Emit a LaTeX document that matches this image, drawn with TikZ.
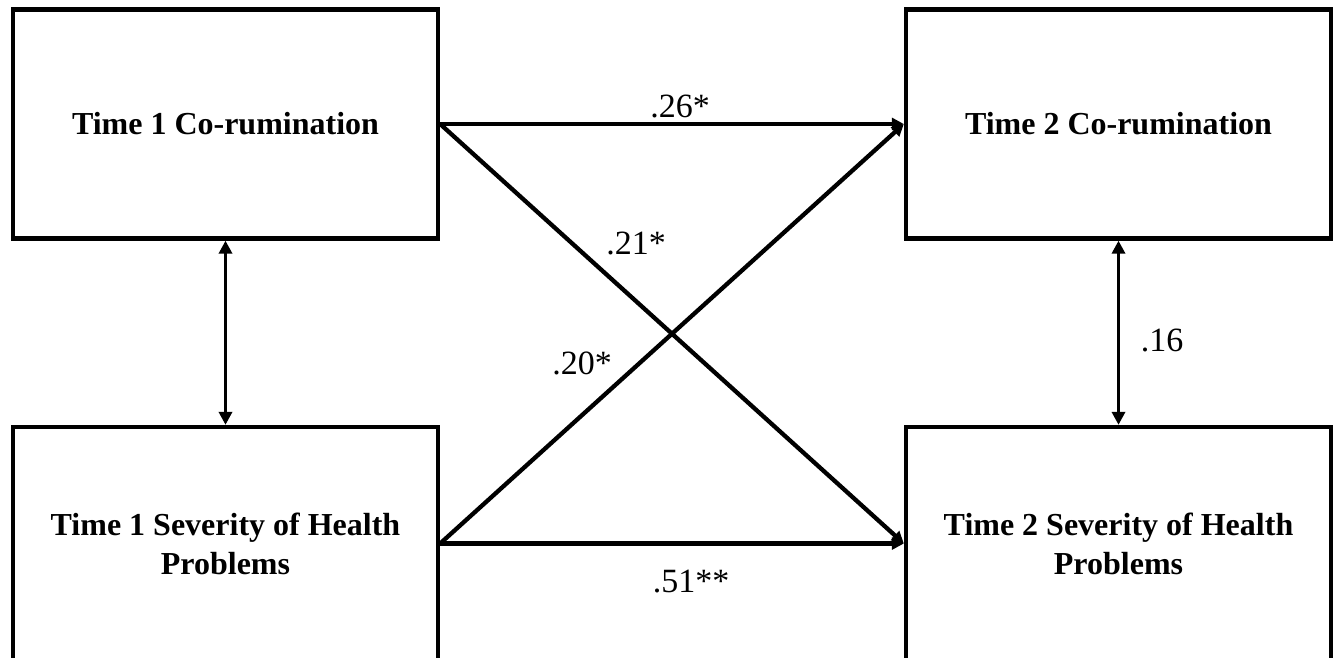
\documentclass[tikz,border=0pt]{standalone}
\usepackage{fontspec}
\setmainfont{Liberation Serif}
\usetikzlibrary{arrows.meta}
\begin{document}
\begin{tikzpicture}[x=1pt,y=-1pt,
  varbox/.style={draw, line width=4.3pt, minimum width=425pt, minimum height=229pt,
    inner sep=0pt, align=center, font=\fontsize{32}{39}\selectfont\bfseries},
  lowbox/.style={varbox, minimum height=233pt},
  path/.style={line width=4.3pt, -{Triangle[length=12pt,width=12pt]}},
  corr/.style={line width=3.6pt, {Triangle[length=13pt,width=13pt]}-{Triangle[length=13pt,width=13pt]}},
  coef/.style={font=\fontsize{34}{40}\selectfont, inner sep=0pt}]
\useasboundingbox (0,0) rectangle (1340,657);
\clip (0,0) rectangle (1340,657);
\node[varbox] (tl) at (225.5,124) {Time 1 Co-rumination};
\node[varbox] (tr) at (1118.5,124) {Time 2 Co-rumination};
\node[lowbox] (bl) at (225.5,543.5) {Time 1 Severity of Health\\Problems};
\node[lowbox] (br) at (1118.5,543.5) {Time 2 Severity of Health\\Problems};
\draw[path] (tl.east) -- (tr.west);
\draw[path] (bl.east) -- (br.west);
\draw[path] (tl.east) -- (br.west);
\draw[path] (bl.east) -- (tr.west);
\draw[corr] (tl.south) -- (bl.north);
\draw[corr] (tr.south) -- (br.north);
\node[coef] (c26) at (680,106) {.26*};
\node[coef] (c21) at (636,243) {.21*};
\node[coef] (c20) at (582,363) {.20*};
\node[coef] (c51) at (691,582) {.51**};
\node[coef] (c16) at (1162,340) {.16};
\end{tikzpicture}
\end{document}
